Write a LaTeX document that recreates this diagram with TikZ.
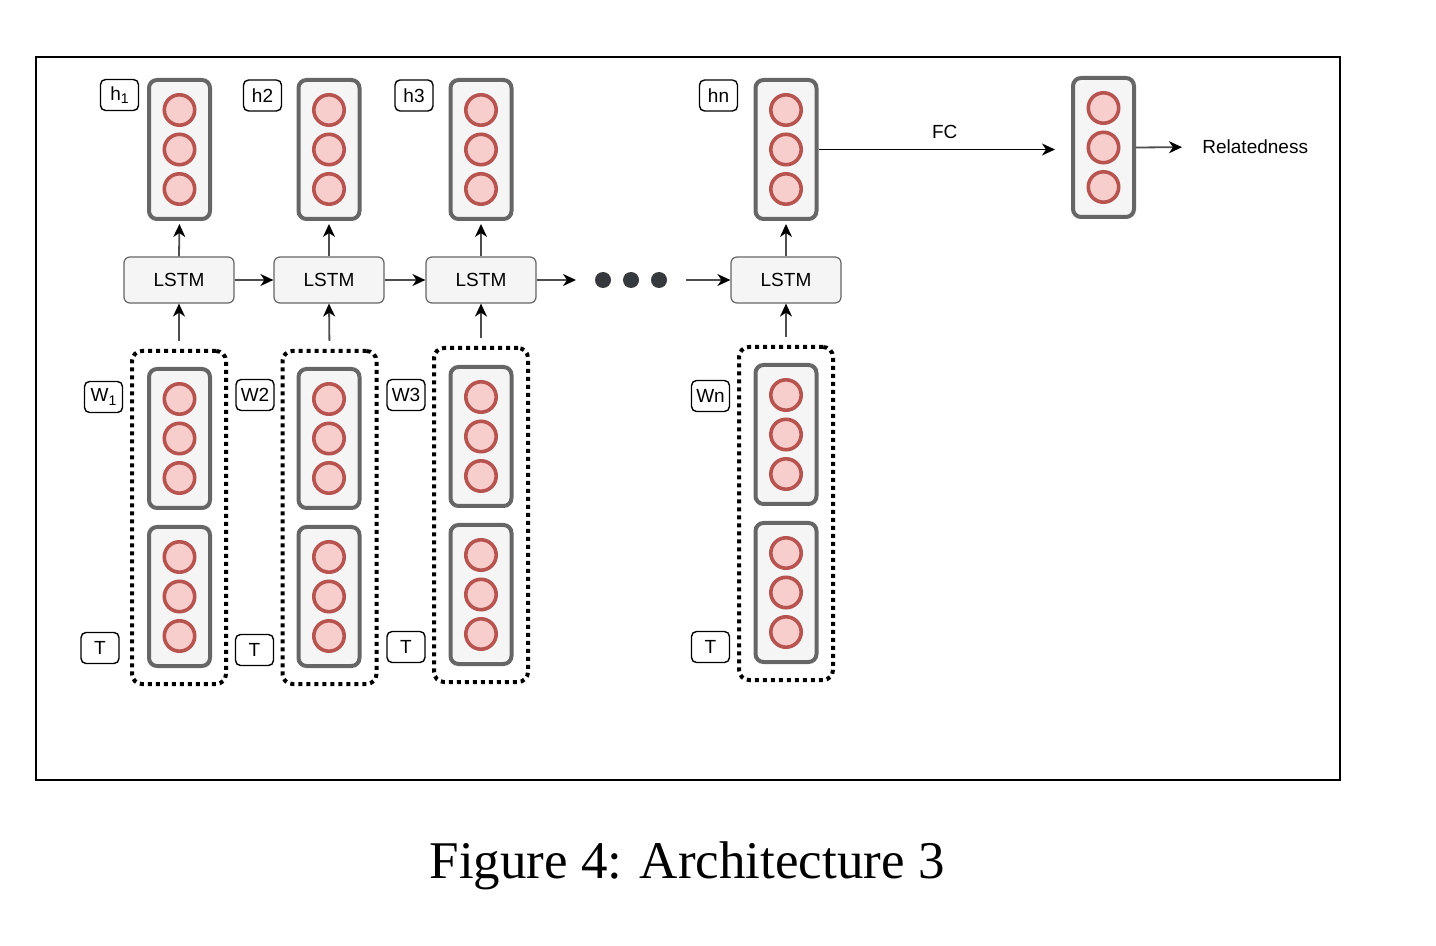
\documentclass[tikz,border=0pt]{standalone}
\usepackage{fontspec}
\setmainfont{Liberation Sans}
\newfontfamily\capfont{Liberation Serif}
\usetikzlibrary{arrows.meta,positioning}
\definecolor{stk}{HTML}{666666}
\definecolor{stkfill}{HTML}{F5F5F5}
\definecolor{cellline}{HTML}{B85450}
\definecolor{cellfill}{HTML}{F8CECC}
\definecolor{dotc}{HTML}{36393D}
\definecolor{arrline}{HTML}{4D4D4D}
\tikzset{
  stackbox/.style={draw=stk,fill=stkfill,line width=2pt,rounded corners=4pt,minimum width=30.5pt,minimum height=69.5pt,inner sep=0pt},
  cell/.style={circle,draw=cellline,fill=cellfill,line width=1.8pt,minimum size=15.2pt,inner sep=0pt},
  lstm/.style={draw=stk,fill=stkfill,line width=0.6pt,rounded corners=3pt,minimum width=55pt,minimum height=23pt,inner sep=0pt,font=\fontsize{9.5}{11}\selectfont},
  lab/.style={draw=black,fill=white,line width=0.7pt,rounded corners=2.5pt,minimum width=19pt,minimum height=15.5pt,inner sep=0pt,font=\fontsize{9.5}{11}\selectfont},
  grp/.style={draw=black,line width=2pt,dash pattern=on 2pt off 2pt,rounded corners=5pt,minimum width=47pt,inner sep=0pt},
  bigdot/.style={circle,fill=dotc,minimum size=8pt,inner sep=0pt},
  arr/.style={-{Stealth[length=6.5pt,width=6pt,inset=2pt,color=black]},line width=0.9pt,draw=arrline},
  txt/.style={font=\fontsize{9.5}{11}\selectfont,inner sep=0pt}
}
\newcommand\mystack[3]{%
  \node[stackbox] (#1) at (#2,#3) {};
  \node[cell] (#1-a) at (#2,#3-39.5) {};
  \node[cell] (#1-b) at (#2,#3) {};
  \node[cell] (#1-c) at (#2,#3+39.5) {};
}
\newcommand\sub[1]{\raisebox{-0.35ex}{\fontsize{7}{8}\selectfont #1}}
\begin{document}
\begin{tikzpicture}[x=0.5pt,y=-0.5pt]
\useasboundingbox (0,0) rectangle (1436,946);
\node[draw=black,line width=1pt,minimum width=652pt,minimum height=361.5pt,inner sep=0pt] (frame) at (688,418.5) {};
% groups (dotted)
\node[grp,minimum height=166.5pt] (g1) at (179,517.5) {};
\node[grp,minimum height=166.5pt] (g2) at (329.5,517.5) {};
\node[grp,minimum height=167pt] (g3) at (481,515) {};
\node[grp,minimum height=166.5pt] (gn) at (786,513.5) {};
% input stacks
\mystack{w1}{179.5}{438.5}
\mystack{t1}{179.5}{596.5}
\mystack{w2}{329}{438.5}
\mystack{t2}{329}{596.5}
\mystack{w3}{481}{436.5}
\mystack{t3}{481}{594.5}
\mystack{wn}{786}{434.5}
\mystack{tn}{786}{592.5}
% hidden stacks
\mystack{h1}{179.5}{149.5}
\mystack{h2}{329}{149.5}
\mystack{h3}{481}{149.5}
\mystack{hn}{786}{149.5}
\mystack{out}{1103.5}{147.5}
% LSTM cells
\node[lstm] (l1) at (179,280) {LSTM};
\node[lstm] (l2) at (329,280) {LSTM};
\node[lstm] (l3) at (481,280) {LSTM};
\node[lstm] (ln) at (786,280) {LSTM};
% dots
\node[bigdot] (d1) at (603,280) {};
\node[bigdot] (d2) at (631,280) {};
\node[bigdot] (d3) at (659,280) {};
\coordinate (c3) at (576,280);
\coordinate (cn) at (686,280);
% labels
\node[lab] (lh1) at (119.5,95) {h\sub{1}};
\node[lab] (lh2) at (262.5,95.5) {h2};
\node[lab] (lh3) at (414,95.5) {h3};
\node[lab] (lhn) at (718.5,95.5) {hn};
\node[lab] (lw1) at (103.5,397) {W\sub{1}};
\node[lab] (lw2) at (255,395) {W2};
\node[lab] (lw3) at (406,395) {W3};
\node[lab] (lwn) at (710.5,396) {Wn};
\node[lab] (lt1) at (100,648) {T};
\node[lab] (lt2) at (254.5,650) {T};
\node[lab] (lt3) at (406,647) {T};
\node[lab] (ltn) at (710.5,647) {T};
% arrows
\foreach \g/\l/\h in {g1/l1/h1,g2/l2/h2,g3/l3/h3,gn/ln/hn}{
  \draw[arr,shorten <=4pt] (\g.north) -- (\l.south);
  \draw[arr,shorten >=1.5pt] (\l.north) -- (\h.south);
}
\draw[arr] (l1.east) -- (l2.west);
\draw[arr] (l2.east) -- (l3.west);
\draw[arr] (l3.east) -- (c3);
\draw[arr] (cn) -- (ln.west);
\draw[arr,draw=black,line width=0.7pt,shorten >=8pt] (hn.east) -- (out.west |- hn.east) node[txt,midway,above=5pt] (fc) {FC};
\node[txt,anchor=west] (rel) at (1202,147) {Relatedness};
\draw[arr,shorten >=10pt] (out.east) -- (rel.west);
% caption
\node[font=\capfont\fontsize{26.5}{30}\selectfont,anchor=base,inner sep=0pt] (cap) at (687,878) {Figure 4:\hspace{0.33em}Architecture 3};
\end{tikzpicture}
\end{document}
